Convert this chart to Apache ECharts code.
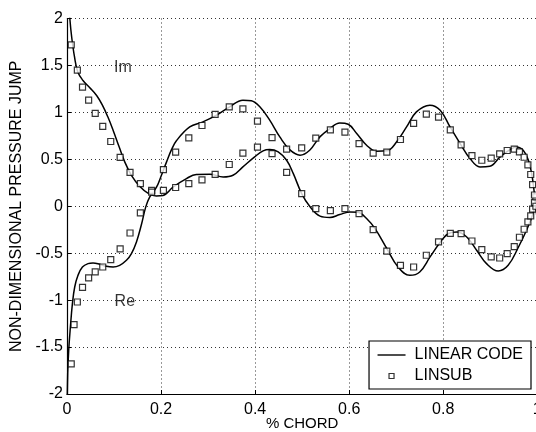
<!DOCTYPE html>
<html>
<head>
<meta charset="utf-8">
<script src="https://cdn.jsdelivr.net/npm/echarts@6/dist/echarts.min.js"></script>
<style>html,body{margin:0;padding:0;background:#fff}#c{width:536px;height:432px}</style>
</head>
<body>
<div id="c"></div>
<script>
// LINEAR CODE curves (chord, value)
var imLineX = [0.000,0.006,0.010,0.016,0.023,0.034,0.048,0.063,0.075,0.087,0.098,0.111,0.123,0.137,0.155,0.172,0.190,0.204,0.226,0.254,0.275,0.304,0.332,0.353,0.374,0.399,0.417,0.431,0.449,0.467,0.481,0.499,0.516,0.538,0.559,0.580,0.602,0.619,0.637,0.655,0.680,0.704,0.729,0.750,0.772,0.794,0.811,0.829,0.850,0.871,0.892,0.917,0.938,0.960,0.977,0.991,1.000];
var imLineY = [2.40,2.00,1.80,1.59,1.43,1.34,1.265,1.18,1.08,0.95,0.81,0.63,0.47,0.33,0.21,0.14,0.11,0.115,0.206,0.295,0.338,0.341,0.312,0.33,0.419,0.526,0.59,0.604,0.579,0.49,0.35,0.135,0.0,-0.105,-0.12,-0.088,-0.06,-0.065,-0.131,-0.238,-0.45,-0.647,-0.736,-0.70,-0.54,-0.38,-0.29,-0.274,-0.327,-0.469,-0.611,-0.69,-0.629,-0.434,-0.256,-0.078,0.10];
var reLineX = [0.000,0.0015,0.0036,0.0072,0.0115,0.0164,0.0234,0.0328,0.0447,0.0553,0.0696,0.0838,0.098,0.112,0.1264,0.137,0.1477,0.158,0.1675,0.176,0.190,0.200,0.2115,0.222,0.233,0.261,0.289,0.318,0.346,0.374,0.392,0.410,0.431,0.4525,0.474,0.4955,0.516,0.5377,0.559,0.580,0.598,0.616,0.637,0.658,0.680,0.701,0.722,0.743,0.7715,0.7935,0.8145,0.836,0.857,0.878,0.899,0.921,0.942,0.956,0.970,0.981,0.988,0.993,0.9966,1.000];
var reLineY = [-2.30,-1.78,-1.535,-1.287,-1.037,-0.86,-0.736,-0.647,-0.611,-0.604,-0.618,-0.64,-0.647,-0.629,-0.576,-0.504,-0.38,-0.20,-0.007,0.10,0.20,0.32,0.47,0.60,0.70,0.845,0.899,0.97,1.059,1.13,1.123,1.059,0.917,0.739,0.60,0.544,0.597,0.739,0.828,0.888,0.874,0.775,0.65,0.586,0.59,0.686,0.845,1.005,1.077,1.023,0.845,0.668,0.508,0.419,0.426,0.526,0.604,0.632,0.597,0.49,0.349,0.17,0.0,-0.15];

// LINSUB stations and values
var chord = [0.009,0.015,0.022,0.033,0.046,0.060,0.076,0.093,0.113,0.134,0.156,0.180,0.205,0.231,0.259,0.287,0.315,0.345,0.374,0.405,0.436,0.467,0.499,0.529,0.560,0.591,0.621,0.651,0.680,0.709,0.737,0.764,0.790,0.815,0.838,0.861,0.882,0.902,0.920,0.936,0.951,0.962,0.972,0.980,0.986,0.990,0.994,0.997];
var imSub = [1.72,null,1.45,1.27,1.13,0.99,0.85,0.69,0.52,0.36,0.24,0.17,0.17,0.20,0.24,0.28,0.34,0.445,0.565,0.63,0.56,0.36,0.135,-0.025,-0.046,-0.025,-0.078,-0.248,-0.477,-0.629,-0.647,-0.522,-0.38,-0.288,-0.291,-0.37,-0.462,-0.54,-0.551,-0.504,-0.43,-0.33,-0.245,-0.167,-0.103,-0.03,0.04,0.10];
var reSub = [-1.68,-1.26,-1.02,-0.864,-0.764,-0.70,-0.647,-0.568,-0.455,-0.285,-0.071,0.15,0.39,0.576,0.728,0.86,0.978,1.059,1.037,0.906,0.732,0.608,0.622,0.725,0.813,0.789,0.668,0.565,0.576,0.711,0.882,0.981,0.949,0.813,0.654,0.54,0.49,0.512,0.558,0.594,0.608,0.579,0.522,0.44,0.338,0.23,0.12,0.0];

// tick settings & annotations
var xTicks = {min: 0, max: 1, interval: 0.2};
var yTicks = {min: -2, max: 2, interval: 0.5};
var notes = [{name: 'Im', x: 0.119, y: 1.48}, {name: 'Re', x: 0.123, y: -1.02}];

function pairs(xs, ys) {
  var out = [];
  for (var i = 0; i < xs.length; i++) out.push(ys[i] === null ? [xs[i], '-'] : [xs[i], ys[i]]);
  return out;
}

var FONT = "'Liberation Sans', Arial, Helvetica, sans-serif";
var chart = echarts.init(document.getElementById('c'), null, {renderer: 'canvas'});
var lineStyle = {color: '#000', width: 1.5};
var subStyle = {color: '#fff', borderColor: '#000', borderWidth: 1.2};

chart.setOption({
  animation: false,
  backgroundColor: '#fff',
  grid: {left: 67, right: -1.3, top: 18.5, bottom: 38, containLabel: false, outerBoundsMode: 'none'},
  xAxis: {
    type: 'value', min: xTicks.min, max: xTicks.max, interval: xTicks.interval,
    name: '% CHORD', nameLocation: 'middle', nameGap: 22, nameMoveOverlap: false,
    nameTextStyle: {color: '#000', fontSize: 15, fontFamily: FONT, verticalAlign: 'top'},
    axisLine: {show: true, onZero: false, lineStyle: {color: '#000', width: 1.2}},
    axisTick: {show: true, inside: true, length: 4, lineStyle: {color: '#000'}},
    axisLabel: {color: '#000', fontSize: 16, fontFamily: FONT, margin: 8},
    splitLine: {show: true, lineStyle: {color: '#333', type: [1, 3], width: 1}}
  },
  yAxis: {
    type: 'value', min: yTicks.min, max: yTicks.max, interval: yTicks.interval,
    name: 'NON-DIMENSIONAL PRESSURE JUMP', nameLocation: 'middle', nameGap: 42, nameMoveOverlap: false,
    nameTextStyle: {color: '#000', fontSize: 16, fontFamily: FONT},
    axisLine: {show: true, onZero: false, lineStyle: {color: '#000', width: 1.2}},
    axisTick: {show: true, inside: true, length: 4, lineStyle: {color: '#000'}},
    axisLabel: {color: '#000', fontSize: 16, fontFamily: FONT, margin: 4},
    splitLine: {show: true, lineStyle: {color: '#333', type: [1, 3], width: 1}}
  },
  legend: {
    orient: 'vertical', right: 5, bottom: 43,
    padding: [6, 8, 5, 2], itemGap: 5, itemWidth: 36, itemHeight: 14,
    borderColor: '#000', borderWidth: 1.2, borderRadius: 0, backgroundColor: '#fff',
    textStyle: {color: '#000', fontSize: 16, fontFamily: FONT},
    data: [
      {name: 'LINEAR CODE', icon: 'path://M0,0M36,10M4,5L32,5', itemStyle: {color: 'none', borderColor: '#000', borderWidth: 1.4}},
      {name: 'LINSUB', icon: 'path://M0,0M36,10M15.5,2.5L20.5,2.5L20.5,7.5L15.5,7.5Z', itemStyle: {color: '#fff', borderColor: '#000', borderWidth: 1.2}}
    ]
  },
  series: [
    {name: 'LINEAR CODE', type: 'line', data: pairs(imLineX, imLineY), symbol: 'none', smooth: 0.4, lineStyle: lineStyle, itemStyle: {color: '#000'}, clip: true, z: 3},
    {name: 'LINEAR CODE', type: 'line', data: pairs(reLineX, reLineY), symbol: 'none', smooth: 0.4, lineStyle: lineStyle, itemStyle: {color: '#000'}, clip: true, z: 3},
    {name: 'LINSUB', type: 'scatter', data: pairs(chord, imSub), symbol: 'rect', symbolSize: 6, itemStyle: subStyle, z: 4},
    {name: 'LINSUB', type: 'scatter', data: pairs(chord, reSub), symbol: 'rect', symbolSize: 6, itemStyle: subStyle, z: 4},
    {name: 'notes', type: 'scatter', symbolSize: 0, silent: true,
     data: notes.map(function (n) { return {name: n.name, value: [n.x, n.y]}; }),
     label: {show: true, position: 'inside', formatter: '{b}', color: '#000', fontSize: 16, fontFamily: FONT}, z: 5}
  ]
});
</script>
</body>
</html>
